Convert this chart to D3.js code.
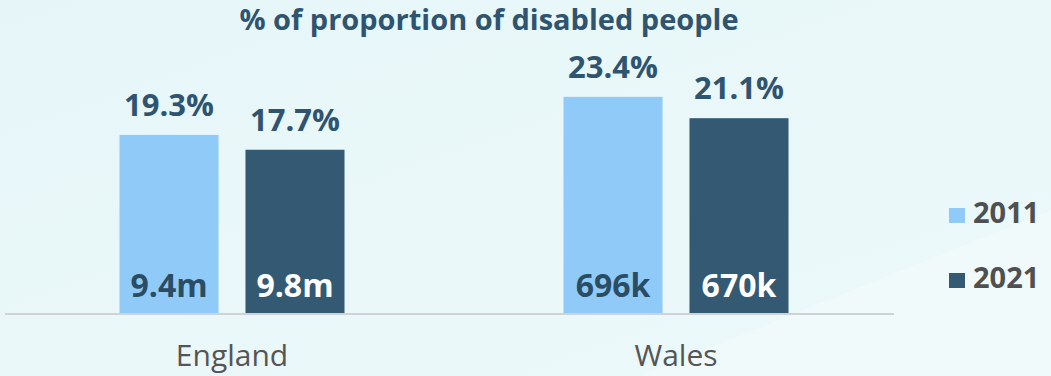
<!DOCTYPE html>
<html>
<head>
<meta charset="utf-8">
<script src="https://cdn.jsdelivr.net/npm/d3@7"></script>
<style>
  body { margin: 0; background: #e9f7f9; }
  svg { display: block; font-family: 'Open Sans', sans-serif; }
</style>
</head>
<body>
<svg></svg>
<script>
const width = 1051
const height = 376

const regions = ['England', 'Wales']
const years = ['2011', '2021']
const pct2011 = [19.3, 23.4]
const pct2021 = [17.7, 21.1]
const count2011 = ['9.4m', '696k']
const count2021 = ['9.8m', '670k']
const title = '% of proportion of disabled people'

const colors = {'2011': '#90caf9', '2021': '#335a72'}
const ink = '#2f5470'

const rows = regions.map((r, i) => ({
  region: r,
  bars: [
    {year: '2011', value: pct2011[i], count: count2011[i]},
    {year: '2021', value: pct2021[i], count: count2021[i]}
  ]
}))

const svg = d3.select('svg').attr('width', width).attr('height', height)

/* background */
const defs = svg.append('defs')
const grad = defs.append('linearGradient').attr('id', 'bg')
  .attr('x1', 0).attr('y1', 0).attr('x2', 1).attr('y2', 1)
grad.append('stop').attr('offset', 0).attr('stop-color', '#e6f6f8')
grad.append('stop').attr('offset', 1).attr('stop-color', '#edf9fa')
svg.append('rect').attr('width', width).attr('height', height).attr('fill', 'url(#bg)')
svg.append('path')
  .attr('d', 'M640,376 L1051,210 L1051,376 Z')
  .attr('fill', '#ffffff').attr('opacity', 0.25)

const baseline = 314
const y = d3.scaleLinear().domain([0, 25]).range([baseline, 82])
const x0 = d3.scaleBand().domain(regions).range([10, 898]).padding(0)
const x1 = d3.scaleBand().domain(years).range([-112.5, 112.5]).paddingInner(0.214)

svg.append('text')
  .attr('x', 489).attr('y', 30)
  .attr('text-anchor', 'middle')
  .attr('font-size', 29).attr('font-weight', 700)
  .attr('fill', ink)
  .text(title)

const groups = svg.selectAll('.group').data(rows)
  .enter().append('g').classed('group', true)
  .attr('transform', d => `translate(${x0(d.region) + x0.bandwidth() / 2},0)`)

groups.selectAll('rect').data(d => d.bars)
  .enter().append('rect')
  .attr('x', d => x1(d.year))
  .attr('width', x1.bandwidth())
  .attr('y', d => y(d.value))
  .attr('height', d => baseline - y(d.value))
  .attr('fill', d => colors[d.year])

groups.selectAll('.pct').data(d => d.bars)
  .enter().append('text').classed('pct', true)
  .attr('x', d => x1(d.year) + x1.bandwidth() / 2)
  .attr('y', d => y(d.value) - 19)
  .attr('text-anchor', 'middle')
  .attr('font-size', 31).attr('font-weight', 700)
  .attr('fill', ink)
  .text(d => d.value.toFixed(1) + '%')

groups.selectAll('.cnt').data(d => d.bars)
  .enter().append('text').classed('cnt', true)
  .attr('x', d => x1(d.year) + x1.bandwidth() / 2)
  .attr('y', baseline - 17)
  .attr('text-anchor', 'middle')
  .attr('font-size', 32).attr('font-weight', 700)
  .attr('fill', d => d.year == '2011' ? '#2a4d63' : '#ffffff')
  .text(d => d.count)

/* axis */
const axis = svg.append('g').attr('transform', `translate(0,${baseline})`)
  .call(d3.axisBottom(x0).tickSize(0).tickPadding(31))
axis.select('.domain').attr('stroke', '#cdd3d6').attr('stroke-width', 2)
  .attr('d', 'M5,0H894')
axis.selectAll('text')
  .attr('font-family', "'Open Sans', sans-serif")
  .attr('font-size', 30).attr('fill', '#555555')

/* legend */
const legend = svg.selectAll('.legend').data(years)
  .enter().append('g').classed('legend', true)
  .attr('transform', (d, i) => `translate(949,${208 + i * 65})`)
legend.append('rect').attr('width', 16).attr('height', 15).attr('fill', d => colors[d])
legend.append('text')
  .attr('x', 24).attr('y', 15)
  .attr('font-size', 29).attr('font-weight', 700)
  .attr('fill', '#505050')
  .text(d => d)
</script>
</body>
</html>
